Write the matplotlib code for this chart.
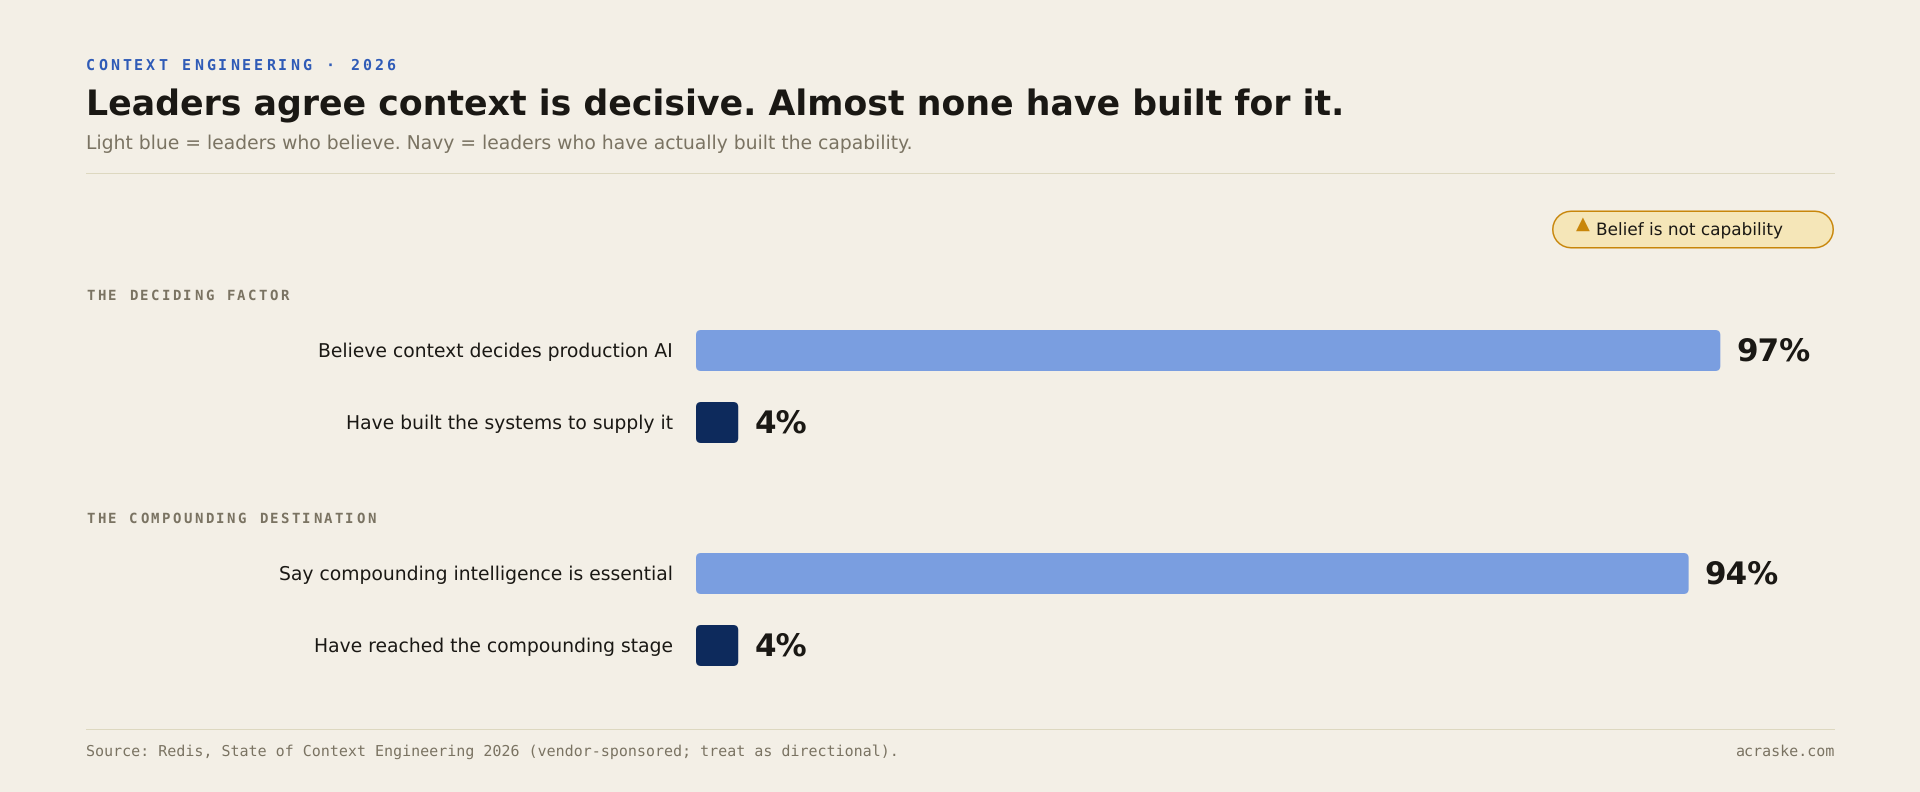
import matplotlib
matplotlib.use('Agg')
import matplotlib.pyplot as plt
from matplotlib.patches import FancyBboxPatch
from matplotlib.text import Text
from matplotlib.transforms import IdentityTransform

plt.rcParams['text.hinting'] = 'no_hinting'
plt.rcParams['text.hinting_factor'] = 8

# data
group_titles = ['THE DECIDING FACTOR', 'THE COMPOUNDING DESTINATION']
group1_labels = ['Believe context decides production AI', 'Have built the systems to supply it']
group1_values = [97, 4]
group2_labels = ['Say compounding intelligence is essential', 'Have reached the compounding stage']
group2_values = [94, 4]

BG = '#f3efe6'
INK = '#1a1814'
MUTED = '#7a7362'
RULE = '#ddd8c0'
LIGHT = '#7a9ee0'
NAVY = '#0d2a5c'
AMBER = '#c8860a'
MONO = 'DejaVu Sans Mono'


def px(n):
    # font size in points for a size in pixels at dpi 100
    return n * 0.72


class SpacedText(Text):
    # monospace text with letter spacing, the advance is in pixels
    def __init__(self, x, y, text, advance, **kw):
        super().__init__(x, y, text, **kw)
        self.advance = advance

    def draw(self, renderer):
        x0, y0 = self.get_transform().transform(self.get_position())
        for i, ch in enumerate(self.get_text()):
            t = Text(x0 + i * self.advance, y0, ch, color=self.get_color(),
                     fontproperties=self.get_fontproperties(), va='baseline',
                     transform=IdentityTransform())
            t.set_figure(self.get_figure())
            t.draw(renderer)


fig = plt.figure(figsize=(19.2, 7.92), dpi=100, facecolor=BG)

# overlay in pixel coordinates for the page furniture
page = fig.add_axes([0, 0, 1, 1])
page.set_xlim(0, 1920)
page.set_ylim(792, 0)
page.axis('off')

# bars: x is percent, y stays in pixels
ax = fig.add_axes([696 / 1920, 0, 1056 / 1920, 1])
ax.set_xlim(0, 100)
ax.set_ylim(792, 0)
ax.axis('off')
ax.patch.set_alpha(0)
x_unit = 1056 / 100


def bar_row(center, label, value, color):
    bar_h = 41
    r = 5
    bar = FancyBboxPatch((0, center - bar_h / 2), value, bar_h,
                         boxstyle=f'round,pad=0,rounding_size={r / x_unit}',
                         mutation_aspect=x_unit, fc=color, ec='none')
    ax.add_patch(bar)
    ax.annotate(f'{value}%', (value, center + 10), xytext=(11.6, 0),
                textcoords='offset points', fontsize=px(31), fontweight='bold',
                color=INK, va='baseline', ha='left', annotation_clip=False)
    page.text(673, center + 6.5, label, fontsize=px(18.8), color=INK, ha='right', va='baseline')


# header
page.add_artist(SpacedText(86, 70, 'CONTEXT ENGINEERING · 2026', 12, color='#2f5bb7',
                           family=MONO, fontweight='bold', fontsize=px(15)))
page.text(86.4, 115, 'Leaders agree context is decisive. Almost none have built for it.',
          fontsize=px(34.82), fontweight='bold', color=INK, va='baseline')
page.text(86.4, 149, 'Light blue = leaders who believe. Navy = leaders who have actually built the capability.',
          fontsize=px(18.8), color=MUTED, va='baseline')
page.plot([86, 1834], [172.5, 172.5], color=RULE, lw=0.72)

# callout pill, a thick line with round caps
page.plot([1571, 1815], [229.5, 229.5], color=AMBER, lw=px(38), solid_capstyle='round', snap=False)
page.plot([1571, 1815], [229.5, 229.5], color='#f5e6b8', lw=px(35), solid_capstyle='round', snap=False)
page.text(1576, 229, '\u25b2', fontsize=px(18), color=AMBER, va='baseline')
page.text(1596, 235, 'Belief is not capability', fontsize=px(16.9), color=INK, va='baseline')

# groups
page.add_artist(SpacedText(86, 300, group_titles[0], 10.8, color=MUTED, family=MONO,
                           fontweight='bold', fontsize=px(14)))
bar_row(350.5, group1_labels[0], group1_values[0], LIGHT)
bar_row(422.5, group1_labels[1], group1_values[1], NAVY)

page.add_artist(SpacedText(86, 523, group_titles[1], 10.8, color=MUTED, family=MONO,
                           fontweight='bold', fontsize=px(14)))
bar_row(573.5, group2_labels[0], group2_values[0], LIGHT)
bar_row(645.5, group2_labels[1], group2_values[1], NAVY)

# footer
page.plot([86, 1834], [729, 729], color=RULE, lw=0.72)
page.text(86.4, 756, 'Source: Redis, State of Context Engineering 2026 (vendor-sponsored; treat as directional).',
          family=MONO, fontsize=px(15.0), color=MUTED, va='baseline')
page.text(1834, 756, 'acraske.com', family=MONO, fontsize=px(15.0), color=MUTED, ha='right', va='baseline')

fig.savefig('out.png', dpi=100, facecolor=BG)
